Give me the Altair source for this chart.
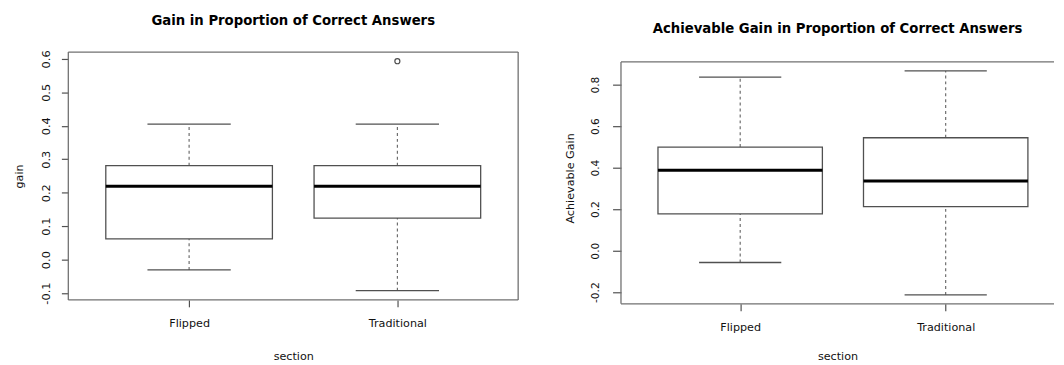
import json
import altair as alt
import pandas as pd

# ---------------- data ----------------
sections = ["Flipped", "Traditional"]

# Left panel: gain
gain_lower = [-0.031, -0.093]
gain_q1 = [0.062, 0.124]
gain_median = [0.219, 0.219]
gain_q3 = [0.281, 0.281]
gain_upper = [0.405, 0.405]
gain_outlier_section = ["Traditional"]
gain_outlier_value = [0.593]
gain_ticks = [-0.1, 0.0, 0.1, 0.2, 0.3, 0.4, 0.5, 0.6]

# Right panel: achievable gain
ach_lower = [-0.057, -0.213]
ach_q1 = [0.177, 0.212]
ach_median = [0.387, 0.336]
ach_q3 = [0.499, 0.544]
ach_upper = [0.836, 0.866]
ach_outlier_section = []
ach_outlier_value = []
ach_ticks = [-0.2, 0.0, 0.2, 0.4, 0.6, 0.8]

FONT = "DejaVu Sans"
FRAME = "#707070"
BOXC = "#505050"


def stats_frame(lower, q1, med, q3, upper):
    df = pd.DataFrame({"section": sections, "lower": lower, "q1": q1,
                       "median": med, "q3": q3, "upper": upper})
    df["pos"] = [sections.index(s) + 1 for s in df["section"]]
    df["box_l"] = df["pos"] - 0.4
    df["box_r"] = df["pos"] + 0.4
    df["cap_l"] = df["pos"] - 0.2
    df["cap_r"] = df["pos"] + 0.2
    return df


def outlier_frame(secs, vals):
    return pd.DataFrame({"section": secs, "value": vals,
                         "pos": [sections.index(s) + 1 for s in secs]})


def panel(title, title_offset, ytitle, df, out_df, ticks, width, view_height,
          top_gap, full_width, label_size, tick_size, label_pad, title_pad, xtitle_pad):
    # R's default axis extension: 4% beyond the data range
    lo = min([df["lower"].min()] + list(out_df["value"]))
    hi = max([df["upper"].max()] + list(out_df["value"]))
    span = hi - lo
    ylo, yhi = lo - 0.04 * span, hi + 0.04 * span
    # extra room above the plot box (panel sits lower in the picture)
    ytop = yhi + (yhi - ylo) * top_gap / (view_height - top_gap)
    xlo = 0.42
    xhi = xlo + 2.16 * width / full_width
    xsc = alt.Scale(domain=[xlo, xhi], nice=False, zero=False)
    ysc = alt.Scale(domain=[ylo, ytop], nice=False, zero=False)

    xaxis = alt.Axis(
        values=[1, 2],
        labelExpr=json.dumps(sections) + "[datum.value - 1]",
        title="section", labelAngle=0, tickSize=7, labelPadding=11,
        titlePadding=xtitle_pad, domain=False, grid=False, labelOverlap=False,
        labelFontSize=11.3, titleFontSize=11.3,
    )
    yaxis = alt.Axis(
        values=ticks,
        labelExpr="replace(format(datum.value, '.1f'), '\u2212', '-')",
        title=ytitle, labelAngle=-90, labelAlign="center", labelBaseline="bottom",
        labelOverlap=False, labelFlush=False, labelSeparation=0,
        tickSize=tick_size, labelPadding=label_pad, titlePadding=title_pad,
        domain=False, grid=False, labelFontSize=label_size, titleFontSize=11.3,
    )

    def X(f):
        return alt.X(f, type="quantitative", scale=xsc, axis=xaxis)

    def Y(f):
        return alt.Y(f, type="quantitative", scale=ysc, axis=yaxis)

    base = alt.Chart(df)
    dash = dict(strokeDash=[3, 3], color="#606060", strokeWidth=1.1)
    whisk_hi = base.mark_rule(**dash).encode(x=X("pos"), y=Y("q3"), y2="upper:Q")
    whisk_lo = base.mark_rule(**dash).encode(x=X("pos"), y=Y("lower"), y2="q1:Q")
    cap_hi = base.mark_rule(color=BOXC, strokeWidth=1.3).encode(
        x=X("cap_l"), x2="cap_r:Q", y=Y("upper"))
    cap_lo = base.mark_rule(color=BOXC, strokeWidth=1.3).encode(
        x=X("cap_l"), x2="cap_r:Q", y=Y("lower"))
    box = base.mark_rect(fill="white", stroke=BOXC, strokeWidth=1.3).encode(
        x=X("box_l"), x2="box_r:Q", y=Y("q1"), y2="q3:Q")
    med = base.mark_rule(color="#000000", strokeWidth=3).encode(
        x=X("box_l"), x2="box_r:Q", y=Y("median"))
    layers = [whisk_hi, whisk_lo, cap_hi, cap_lo, box, med]

    if len(out_df):
        pts = alt.Chart(out_df).mark_point(
            shape="circle", filled=False, size=26, color="#000000", strokeWidth=1.2
        ).encode(x=X("pos"), y=Y("value"))
        layers.append(pts)

    # plot frame (R's box()) drawn on the same scales
    fdf = alt.Chart(pd.DataFrame({"xlo": [xlo], "xhi": [xhi], "ylo": [ylo], "yhi": [yhi]}))
    fr = dict(color=FRAME, strokeWidth=1.3)
    layers += [
        fdf.mark_rule(**fr).encode(x=X("xlo"), x2="xhi:Q", y=Y("yhi")),
        fdf.mark_rule(**fr).encode(x=X("xlo"), x2="xhi:Q", y=Y("ylo")),
        fdf.mark_rule(**fr).encode(x=X("xlo"), y=Y("ylo"), y2="yhi:Q"),
    ]
    if width >= full_width:
        layers.append(fdf.mark_rule(**fr).encode(x=X("xhi"), y=Y("ylo"), y2="yhi:Q"))

    return alt.layer(*layers).properties(
        width=width, height=view_height,
        title=alt.Title(title, offset=title_offset),
        view=alt.ViewBackground(stroke="transparent"))


left = panel("Gain in Proportion of Correct Answers", 23, "gain",
             stats_frame(gain_lower, gain_q1, gain_median, gain_q3, gain_upper),
             outlier_frame(gain_outlier_section, gain_outlier_value),
             gain_ticks, 455, 250.7, 0, 455, 11.5, 7, 9.6, 17, 22)

right = panel("Achievable Gain in Proportion of Correct Answers", 17.3, "Achievable Gain",
              stats_frame(ach_lower, ach_q1, ach_median, ach_q3, ach_upper),
              outlier_frame(ach_outlier_section, ach_outlier_value),
              ach_ticks, 438, 254.7, 10, 449, 10.8, 8.5, 12, 15, 18)

chart = alt.hconcat(left, right, spacing=44).properties(
    padding={"left": 4, "top": 2.5, "right": 0, "bottom": 0}
).configure(
    font=FONT,
).configure_title(
    font=FONT, fontSize=13.4, fontWeight="bold", anchor="middle", color="#000000",
).configure_axis(
    labelFont=FONT, titleFont=FONT, labelColor="#111111", titleColor="#111111",
    titleFontWeight="normal", tickColor="#505050", tickWidth=1.2, labelOverlap=False,
)

chart.save("out.html", embed_options={"renderer": "svg", "actions": False})
